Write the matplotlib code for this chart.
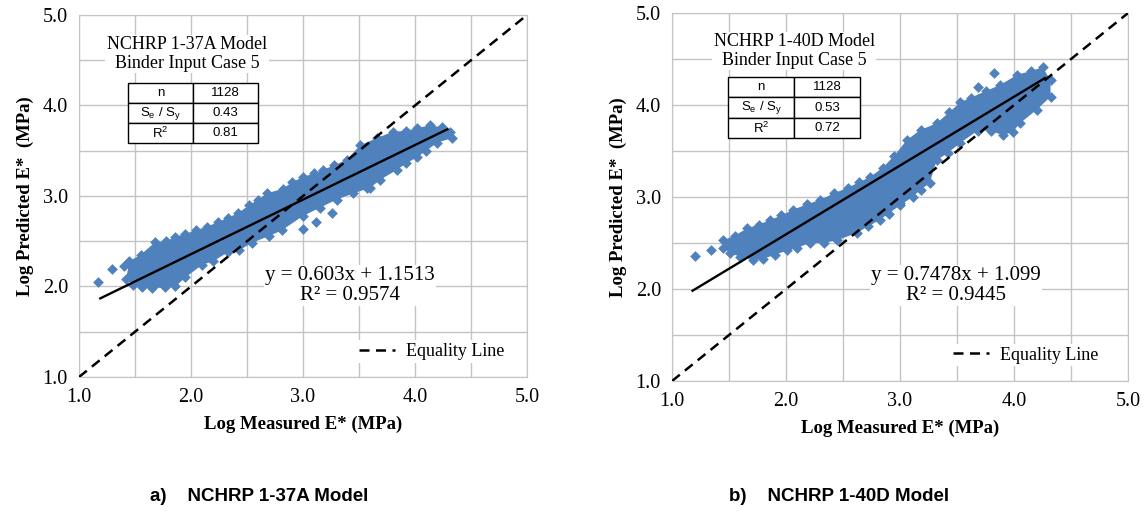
import numpy as np
import matplotlib.pyplot as plt
from matplotlib.lines import Line2D

plt.rcParams['font.family'] = ['Liberation Serif', 'DejaVu Serif']

# --- panel a) NCHRP 1-37A : outline of the point cloud ---
a_upper_x = [1.45, 1.55, 1.68, 1.78, 1.86, 1.95, 2.04, 2.14, 2.24, 2.33, 2.42, 2.52, 2.60, 2.68,
             2.82, 2.90, 3.00, 3.10, 3.18, 3.28, 3.39, 3.51, 3.66, 3.80, 3.92, 4.02, 4.13, 4.24, 4.31]
a_upper_y = [2.28, 2.35, 2.49, 2.50, 2.55, 2.58, 2.62, 2.66, 2.71, 2.76, 2.81, 2.90, 2.96, 3.03,
             3.08, 3.15, 3.21, 3.25, 3.29, 3.34, 3.40, 3.56, 3.64, 3.71, 3.72, 3.75, 3.78, 3.76, 3.71]
a_lower_x = [4.33, 4.20, 4.10, 4.02, 3.92, 3.84, 3.69, 3.60, 3.45, 3.30, 3.15, 3.00, 2.81, 2.70,
             2.54, 2.43, 2.33, 2.20, 2.10, 1.95, 1.86, 1.77, 1.65, 1.56, 1.48, 1.42]
a_lower_y = [3.64, 3.59, 3.50, 3.43, 3.36, 3.29, 3.18, 3.09, 3.03, 2.96, 2.87, 2.78, 2.62, 2.56,
             2.48, 2.40, 2.38, 2.28, 2.24, 2.10, 2.00, 1.99, 1.98, 1.99, 2.02, 2.08]
a_out_x = [1.17, 1.29, 1.40, 3.00, 3.12, 3.26, 3.57, 3.67]
a_out_y = [2.05, 2.19, 2.23, 2.64, 2.71, 2.81, 3.09, 3.21]
a_fit = (0.603, 1.1513)
a_fit_x = [1.19, 4.29]
a_eq = 'y = 0.603x + 1.1513\nR² = 0.9574'
a_title = 'NCHRP 1-37A Model\nBinder Input Case 5'
a_stats = ['1128', '0.43', '0.81']

# --- panel b) NCHRP 1-40D ---
b_upper_x = [1.45, 1.55, 1.66, 1.76, 1.86, 1.96, 2.06, 2.18, 2.30, 2.42, 2.54, 2.64, 2.74, 2.85,
             2.95, 3.06, 3.18, 3.32, 3.43, 3.53, 3.62, 3.75, 3.88, 4.03, 4.15, 4.25, 4.32]
b_upper_y = [2.53, 2.58, 2.66, 2.70, 2.75, 2.80, 2.86, 2.92, 2.97, 3.04, 3.10, 3.16, 3.22, 3.32,
             3.45, 3.62, 3.73, 3.80, 3.92, 4.03, 4.08, 4.15, 4.22, 4.33, 4.37, 4.41, 4.27]
b_lower_x = [4.32, 4.20, 4.05, 3.99, 3.90, 3.80, 3.68, 3.53, 3.42, 3.32, 3.26, 3.18, 3.11, 3.00,
             2.90, 2.82, 2.72, 2.62, 2.45, 2.33, 2.21, 2.10, 2.01, 1.90, 1.80, 1.71, 1.60, 1.51, 1.45]
b_lower_y = [4.09, 3.95, 3.80, 3.71, 3.67, 3.72, 3.72, 3.59, 3.48, 3.40, 3.15, 3.08, 3.00, 2.91,
             2.82, 2.75, 2.68, 2.61, 2.53, 2.50, 2.50, 2.45, 2.42, 2.37, 2.33, 2.32, 2.35, 2.39, 2.45]
b_out_x = [1.20, 1.34, 3.00, 3.68, 3.82]
b_out_y = [2.36, 2.42, 2.93, 4.20, 4.35]
b_fit = (0.7478, 1.099)
b_fit_x = [1.18, 4.27]
b_eq = 'y = 0.7478x + 1.099\nR² = 0.9445'
b_title = 'NCHRP 1-40D Model\nBinder Input Case 5'
b_stats = ['1128', '0.53', '0.72']

stat_names = ['n', r'S$_\mathregular{e}$ / S$_\mathregular{y}$', r'R$^\mathregular{2}$']
ticks = [1.0, 2.0, 3.0, 4.0, 5.0]

BLUE = '#4F81BD'
GRID = '#c4c4c4'


def panel(ax, ux, uy, lx, ly, ox, oy, fit, fit_x, eq, eq_xy, title, title_xy, stats, tab_box,
          leg_x):
    ax.set_xlim(1, 5)
    ax.set_ylim(1, 5)
    ax.set_xticks(ticks)
    ax.set_yticks(ticks)
    ax.set_xticks([1.5, 2.5, 3.5, 4.5], minor=True)
    ax.set_yticks([1.5, 2.5, 3.5, 4.5], minor=True)
    ax.set_xticklabels(['%.1f' % t for t in ticks])
    ax.set_yticklabels(['%.1f' % t for t in ticks])
    ax.tick_params(which='both', length=0, labelsize=14.5, pad=8)
    ax.grid(which='both', color=GRID, lw=1.0)
    ax.set_axisbelow(True)
    for s in ax.spines.values():
        s.set_color(GRID)

    # point cloud: filled outline plus the diamonds along it
    ax.fill(ux + lx, uy + ly, color=BLUE, lw=0, zorder=2)
    ax.scatter(ux + lx + ox, uy + ly + oy, marker='D', s=30, color=BLUE, lw=0, zorder=2)

    xs = np.array(fit_x)
    ax.plot(xs, fit[0] * xs + fit[1], color='black', lw=1.7, zorder=4)
    ax.plot([1, 5], [1, 5], color='black', lw=1.8, ls=(0, (4, 2.6)), zorder=5)

    ax.text(eq_xy[0], eq_xy[1], eq, ha='center', va='center', fontsize=15, linespacing=1.05,
            bbox=dict(facecolor='white', edgecolor='none', pad=1), zorder=3)
    ax.text(title_xy[0], title_xy[1], title, transform=ax.transAxes, ha='center', va='center',
            fontsize=13, linespacing=1.15, bbox=dict(facecolor='white', edgecolor='none', pad=1),
            zorder=3)

    tab = ax.table(cellText=[[n, v] for n, v in zip(stat_names, stats)], cellLoc='center',
                   bbox=tab_box, zorder=6)
    tab.auto_set_font_size(False)
    tab.set_fontsize(9.5)
    for cell in tab.get_celld().values():
        cell.set_edgecolor('black')
        cell.set_linewidth(1.0)
        cell.set_facecolor('white')
        cell.get_text().set_fontfamily(['Liberation Sans', 'DejaVu Sans'])

    ax.legend(handles=[Line2D([], [], color='black', lw=1.8, ls=(0, (4, 2.6)))],
              labels=['Equality Line'], loc='center right', bbox_to_anchor=(leg_x, 0.07),
              frameon=True, fancybox=False, edgecolor='none', facecolor='white', framealpha=1,
              fontsize=13, handlelength=2.0, handletextpad=0.6, borderpad=0.15)

    ax.set_xlabel('Log Measured E* (MPa)', fontsize=13.5, fontweight='bold', labelpad=6)
    ax.set_ylabel('Log Predicted E*  (MPa)', fontsize=13.5, fontweight='bold', labelpad=6)


fig = plt.figure(figsize=(11.47, 5.13), dpi=100)
ax1 = fig.add_axes([0.0689, 0.2651, 0.3906, 0.7057])
ax2 = fig.add_axes([0.5859, 0.2573, 0.3976, 0.7173])

panel(ax1, a_upper_x, a_upper_y, a_lower_x, a_lower_y, a_out_x, a_out_y, a_fit, a_fit_x,
      a_eq, (3.42, 2.01), a_title, (0.241, 0.892), a_stats, [0.109, 0.646, 0.291, 0.166], 0.975)
panel(ax2, b_upper_x, b_upper_y, b_lower_x, b_lower_y, b_out_x, b_out_y, b_fit, b_fit_x,
      b_eq, (3.49, 2.04), b_title, (0.268, 0.897), b_stats, [0.123, 0.660, 0.289, 0.166], 0.960)

cap = dict(fontsize=13.5, fontweight='bold', family=['Liberation Sans Narrow', 'Liberation Sans'],
           va='center', ha='left')
fig.text(0.131, 0.033, 'a)    NCHRP 1-37A Model', **cap)
fig.text(0.636, 0.033, 'b)    NCHRP 1-40D Model', **cap)

fig.savefig('out.png', dpi=100)
